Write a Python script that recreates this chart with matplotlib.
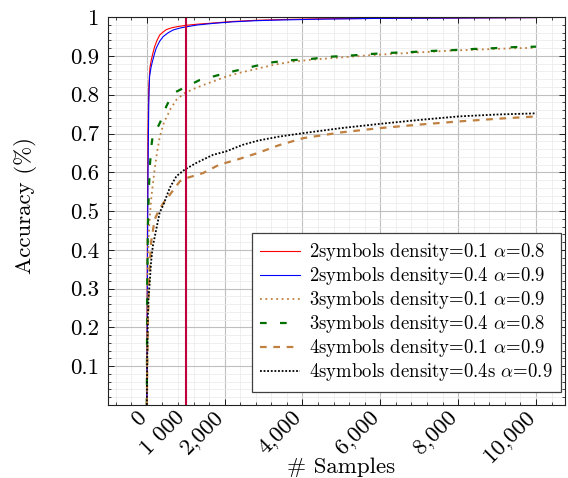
import numpy as np
import matplotlib
matplotlib.use("Agg")
import matplotlib.pyplot as plt
from matplotlib.transforms import ScaledTranslation

plt.rcParams['font.family'] = 'serif'
plt.rcParams['font.serif'] = ['cmr10']
plt.rcParams['mathtext.fontset'] = 'cm'
plt.rcParams['axes.unicode_minus'] = False
plt.rcParams['axes.formatter.use_mathtext'] = True

# 2symbols density=0.1 alpha=0.8
x_red = [0, 15, 30, 50, 80, 113, 150, 200, 260, 330, 420, 500, 650, 800, 1000,
         1300, 1700, 2200, 2800, 3500, 4500, 6000, 8000, 10000]
y_red = [0.0, 0.45, 0.7, 0.82, 0.87, 0.889, 0.905, 0.924, 0.94, 0.954, 0.962, 0.968,
         0.973, 0.976, 0.979, 0.982, 0.985, 0.989, 0.992, 0.994, 0.996, 0.997, 0.998, 0.999]

# 2symbols density=0.4 alpha=0.9
x_blue = [0, 15, 30, 50, 70, 110, 155, 200, 240, 330, 420, 550, 675, 850, 1000,
          1300, 1700, 2200, 2800, 3500, 4500, 6000, 8000, 10000]
y_blue = [0.0, 0.35, 0.6, 0.78, 0.847, 0.872, 0.89, 0.907, 0.92, 0.938, 0.95, 0.96,
          0.967, 0.972, 0.975, 0.98, 0.984, 0.988, 0.991, 0.993, 0.995, 0.997, 0.998, 0.999]

# 3symbols density=0.1 alpha=0.9
x_or3 = [0, 10, 20, 40, 70, 120, 200, 260, 330, 400, 460, 500, 600, 760, 970, 1200,
         1450, 1750, 2040, 2400, 2870, 3300, 3720, 4190, 4700, 5220, 5735, 6250, 6770,
         7330, 7840, 8390, 8900, 9470, 10000]
y_or3 = [0.0, 0.2, 0.35, 0.42, 0.478, 0.54, 0.607, 0.65, 0.69, 0.715, 0.735, 0.74,
         0.762, 0.787, 0.804, 0.815, 0.825, 0.836, 0.847, 0.857, 0.868, 0.878, 0.885,
         0.89, 0.894, 0.898, 0.902, 0.905, 0.908, 0.911, 0.914, 0.916, 0.918, 0.92, 0.921]

# 3symbols density=0.4 alpha=0.8
x_gr3 = [0, 10, 25, 50, 80, 120, 160, 230, 300, 370, 450, 500, 600, 680, 800, 935,
         1360, 2000, 2780, 3250, 3720, 4190, 4700, 5220, 5735, 6250, 6770, 7330, 7840,
         8390, 8900, 9470, 10000]
y_gr3 = [0.0, 0.3, 0.45, 0.55, 0.62, 0.67, 0.70, 0.71, 0.72, 0.735, 0.755, 0.77,
         0.79, 0.804, 0.81, 0.817, 0.838, 0.855, 0.874, 0.884, 0.889, 0.892, 0.898,
         0.901, 0.905, 0.908, 0.91, 0.913, 0.915, 0.918, 0.92, 0.923, 0.924]

# 4symbols density=0.1 alpha=0.9
x_or4 = [0, 10, 25, 45, 70, 110, 200, 300, 420, 590, 850, 1020, 1445, 1870, 2300,
         2860, 3400, 4020, 5000, 6000, 7000, 8000, 9000, 10000]
y_or4 = [0.0, 0.1, 0.2, 0.28, 0.35, 0.42, 0.478, 0.50, 0.52, 0.542, 0.577, 0.585,
         0.598, 0.62, 0.632, 0.65, 0.67, 0.688, 0.703, 0.714, 0.723, 0.731, 0.738, 0.744]

# 4symbols density=0.4s alpha=0.9
x_bk4 = [0, 10, 25, 45, 70, 110, 155, 330, 420, 590, 760, 975, 1270, 1700, 2040,
         2470, 2870, 3400, 4020, 5000, 6000, 7000, 8000, 9000, 10000]
y_bk4 = [0.0, 0.12, 0.22, 0.28, 0.31, 0.37, 0.41, 0.496, 0.515, 0.56, 0.59, 0.607,
         0.624, 0.645, 0.654, 0.671, 0.682, 0.692, 0.701, 0.714, 0.725, 0.735, 0.744,
         0.749, 0.752]

labels = [r'2symbols density=0.1 $\alpha$=0.8',
          r'2symbols density=0.4 $\alpha$=0.9',
          r'3symbols density=0.1 $\alpha$=0.9',
          r'3symbols density=0.4 $\alpha$=0.8',
          r'4symbols density=0.1 $\alpha$=0.9',
          r'4symbols density=0.4s $\alpha$=0.9']

xticks = [0, 1000, 2000, 4000, 6000, 8000, 10000]
xticklabels = ['0', '1 000', '2,000', '4,000', '6,000', '8,000', '10,000']
yticks = [0.1, 0.2, 0.3, 0.4, 0.5, 0.6, 0.7, 0.8, 0.9, 1.0]
yticklabels = ['0.1', '0.2', '0.3', '0.4', '0.5', '0.6', '0.7', '0.8', '0.9', '1']

brown = '#bf8040'

fig = plt.figure(figsize=(5.68, 4.78), dpi=100)
ax = fig.add_axes([0.190, 0.153, 0.805, 0.811])

ax.plot(x_red, y_red, color='red', lw=0.8, label=labels[0])
ax.plot(x_blue, y_blue, color='blue', lw=0.8, label=labels[1])
ax.plot(x_or3, y_or3, color=brown, lw=1.3, ls=(0, (1, 2)), label=labels[2])
ax.plot(x_gr3, y_gr3, color='#007000', lw=1.6, ls=(0, (3, 6)), label=labels[3])
ax.plot(x_or4, y_or4, color=brown, lw=1.6, ls=(0, (3, 3)), label=labels[4])
ax.plot(x_bk4, y_bk4, color='black', lw=1.3, ls=(0, (1, 1)), label=labels[5])
ax.axvline(1000, color='#c0003c', lw=1.5)

ax.set_xlim(-1000, 10750)
ax.set_ylim(0, 1)
ax.set_xticks(xticks)
ax.set_xticklabels(xticklabels, rotation=45, ha='right', va='center', rotation_mode='anchor')
ax.set_xticks(np.arange(-800, 10750, 400), minor=True)
ax.set_yticks(yticks)
ax.set_yticklabels(yticklabels)
ax.set_yticks(np.arange(0.02, 1.0, 0.02), minor=True)

ax.tick_params(which='both', direction='in', top=True, right=True, labelsize=16.5)
ax.tick_params(which='major', length=4, width=0.6)
ax.tick_params(which='minor', length=2.5, width=0.5)
ax.tick_params(axis='x', pad=7)
ax.tick_params(axis='y', pad=6.5)
shift = ScaledTranslation(-0.04, 0, fig.dpi_scale_trans)
for lab in ax.get_xticklabels():
    lab.set_transform(lab.get_transform() + shift)

ax.grid(which='major', color='#bfbfbf', lw=0.8)
ax.grid(which='minor', color='#ececec', lw=0.6)
ax.set_axisbelow(True)
for s in ax.spines.values():
    s.set_linewidth(0.8)
    s.set_color('#222222')

ax.set_xlabel('# Samples', fontsize=16.5)
ax.set_ylabel('Accuracy (%)', fontsize=16.5)
ax.xaxis.set_label_coords(0.51, -0.137)
ax.yaxis.set_label_coords(-0.155, 0.513)

leg = ax.legend(loc='lower right', bbox_to_anchor=(0.991, 0.0335), borderaxespad=0,
                fontsize=13.5, fancybox=False, framealpha=1, handlelength=2.13,
                handletextpad=0.48, labelspacing=0.11, borderpad=0.45)
leg.get_frame().set_edgecolor('#404040')
leg.get_frame().set_linewidth(0.9)

fig.savefig('out.png', dpi=100)
